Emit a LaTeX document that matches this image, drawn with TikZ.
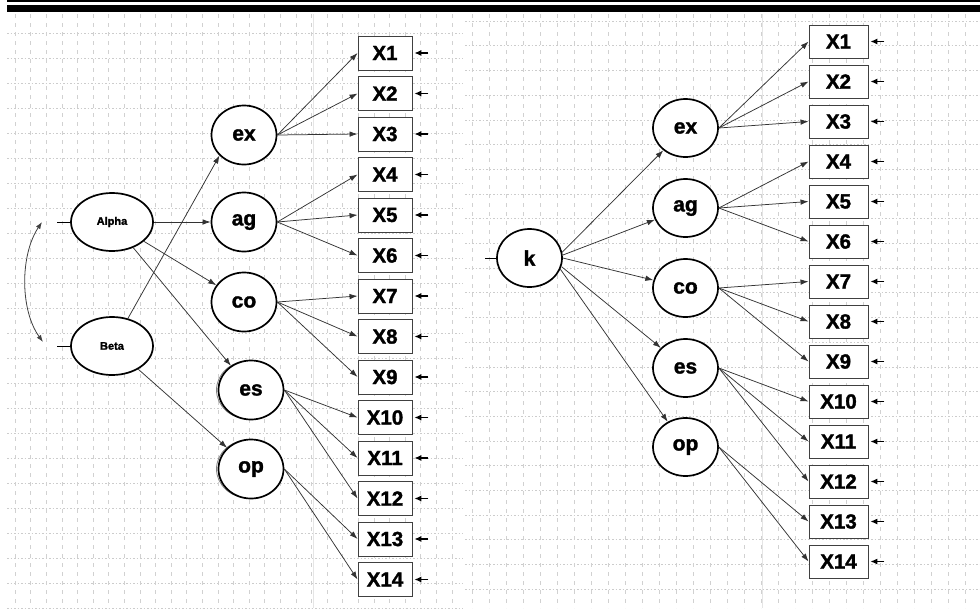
\documentclass[tikz,border=0pt]{standalone}
\usepackage{fontspec}
\setmainfont{Liberation Sans}[BoldFeatures={FakeBold=1.5}]
\usetikzlibrary{arrows.meta,shapes.geometric}
\tikzset{
  lat/.style={ellipse,draw=black,line width=1.7pt,fill=white,inner sep=0pt,
    minimum width=65pt,minimum height=59pt,font=\fontsize{21}{21}\selectfont\bfseries},
  lat2/.style={lat,minimum width=82pt,minimum height=58pt,font=\fontsize{11}{11}\selectfont\bfseries},
  obsL/.style={rectangle,draw=black!75,line width=0.9pt,fill=white,inner sep=0pt,
    minimum width=54pt,minimum height=34pt,font=\fontsize{20.5}{20.5}\selectfont\bfseries},
  obsR/.style={obsL,minimum width=59pt,minimum height=33pt},
  path/.style={draw=black!80,line width=0.75pt,-{Latex[length=8pt,width=5.5pt]}},
  err/.style={draw=black,line width=1.1pt,-{Latex[length=7pt,width=6pt]}},
  stub/.style={draw=black,line width=0.8pt},
  hgrid/.style={draw=black!20,line width=0.6pt,dash pattern=on 1.5pt off 2pt},
  vgrid/.style={draw=black!18,line width=0.6pt,dash pattern=on 4pt off 5pt},
  sgrid/.style={draw=black!10,line width=0.8pt}
}
\begin{document}
\begin{tikzpicture}[x=1pt,y=-1pt]
\useasboundingbox (0,0) rectangle (980,608);
\fill[white] (0,0) rectangle (980,608);
% grids
\foreach \y in {0,...,23} {\draw[hgrid] (7,33+25*\y) -- (463,33+25*\y);}
\foreach \x in {0,...,28} {\draw[vgrid] (15+15.6*\x,14) -- (15+15.6*\x,608);}
\draw[sgrid] (313,14) -- (313,608);
\foreach \y in {0,...,24} {\draw[hgrid] (465,21+24.7*\y) -- (980,21+24.7*\y);}
\foreach \x in {0,...,30} {\draw[vgrid] (472+17*\x,14) -- (472+17*\x,608);}
\draw[sgrid] (762,14) -- (762,608);
% top rules
\draw[line width=1.3pt] (7,1) -- (980,1);
\fill[black] (7,4.5) rectangle (980,11.5);

% ---------- left model ----------
\draw[gray,line width=0.8pt] (248.5,390) ellipse (32pt and 29pt);
\draw[gray,line width=0.8pt] (248.5,469) ellipse (32pt and 29pt);
\node[lat2] (Alpha) at (112,222) {Alpha};
\node[lat2] (Beta) at (112,346) {Beta};
\node[lat] (exL) at (244,135) {ex};
\node[lat] (agL) at (244,222) {ag};
\node[lat] (coL) at (244,302) {co};
\node[lat] (esL) at (251,390) {es};
\node[lat] (opL) at (251,469) {op};
\foreach \i in {1,...,14} {
  \node[obsL] (L\i) at (385,53+40.5*\i-40.5) {X\i};
  \draw[err] ([xshift=16pt]L\i.east) -- ([xshift=2pt]L\i.east);
}
\draw[stub] (Alpha.west) -- ++(-13,0);
\draw[stub] (Beta.west) -- ++(-13,0);
\coordinate (c1) at (42,222);
\coordinate (c2) at (43,342);
\draw[draw=black!75,line width=0.8pt,{Latex[length=7pt,width=5pt]}-{Latex[length=7pt,width=5pt]}]
  (c1) .. controls (20,255) and (20,310) .. (c2);
\draw[path] (Alpha.east) -- (agL.west);
\draw[path] (Alpha) -- (coL);
\draw[path] (Alpha) -- (esL);
\draw[path] (Beta.60) -- (exL.220);
\draw[path] (Beta) -- (opL);
\foreach \c/\a/\b/\d in {exL/1/2/3,agL/4/5/6,coL/7/8/9,esL/10/11/12} {
  \draw[path] (\c.east) -- (L\a.west);
  \draw[path] (\c.east) -- (L\b.west);
  \draw[path] (\c.east) -- (L\d.west);
}
\draw[path] (opL.east) -- (L13.west);
\draw[path] (opL.east) -- (L14.west);

% ---------- right model ----------
\node[lat,minimum height=58pt] (k) at (529.5,258) {k};
\node[lat,minimum height=58pt] (exR) at (685.5,128) {ex};
\node[lat,minimum height=58pt] (agR) at (685.5,208) {ag};
\node[lat,minimum height=58pt] (coR) at (685.5,288) {co};
\node[lat,minimum height=58pt] (esR) at (685.5,368) {es};
\node[lat,minimum height=58pt] (opR) at (685.5,447) {op};
\foreach \i in {1,...,14} {
  \node[obsR] (R\i) at (838.5,41.5+40*\i-40) {X\i};
  \draw[err] ([xshift=16pt]R\i.east) -- ([xshift=2pt]R\i.east);
}
\draw[stub] (k.west) -- ++(-11,0);
\draw[path] (k.10) -- (exR);
\draw[path] (k.5) -- (agR);
\draw[path] (k.east) -- (coR);
\draw[path] (k.-15) -- (esR);
\draw[path] (k.-20) -- (opR);
\foreach \c/\a/\b/\d in {exR/1/2/3,agR/4/5/6,coR/7/8/9,esR/10/11/12} {
  \draw[path] (\c.east) -- (R\a.west);
  \draw[path] (\c.east) -- (R\b.west);
  \draw[path] (\c.east) -- (R\d.west);
}
\draw[path] (opR.east) -- (R13.west);
\draw[path] (opR.east) -- (R14.west);
\end{tikzpicture}
\end{document}
